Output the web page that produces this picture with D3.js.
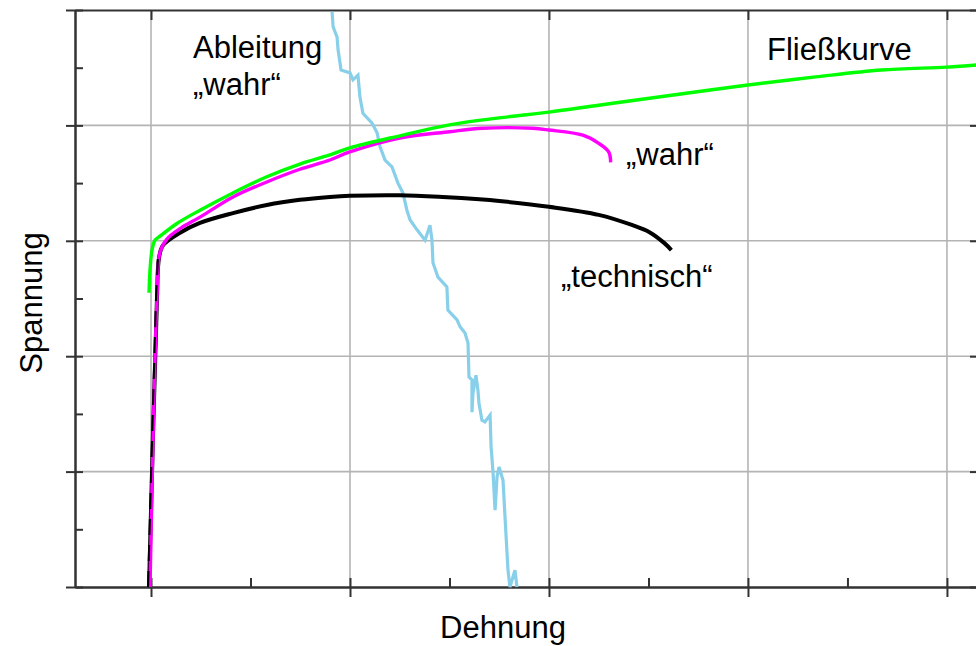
<!DOCTYPE html>
<html>
<head>
<meta charset="utf-8">
<script src="https://cdn.jsdelivr.net/npm/d3@7"></script>
<style>
  body { margin: 0; background: #fff; }
  svg { display: block; font-family: "Liberation Sans", Arial, sans-serif; }
</style>
</head>
<body>
<div id="chart"></div>
<script>
// Dehnung (x) / Spannung (y) readings
const technischX = [-0.1, 0.3, 0.4, 0.6, 1.46, 2.46, 4.12, 5.82, 7.48, 8.99, 9.99, 12.5, 14.66, 16.5, 17.5, 20, 22.5, 24.2, 25.05, 25.8, 26.15];
const technischY = [0, 500, 570, 592, 614, 631, 648, 662, 671, 676, 678, 679, 676, 672, 669, 659, 645, 627, 615, 596, 584];

const wahrX = [-0.05, 0.3, 0.45, 0.8, 1.5, 2.46, 4.12, 5.82, 7.48, 8.99, 9.99, 12.5, 15.0, 16.67, 19.18, 20, 21.7, 22.5, 23.0, 23.1];
const wahrY = [0, 500, 580, 603, 622, 641, 676, 702, 724, 740, 754, 778, 789, 795, 795, 792, 783, 769, 754, 736];

const fliessX = [-0.1, -0.05, 0.05, 0.2, 0.45, 1.3, 2.46, 4.12, 5.82, 7.48, 8.99, 9.99, 12.5, 15.0, 17.5, 20, 22.5, 25.05, 30, 33.4, 36.7, 40, 41.6];
const fliessY = [510, 549, 584, 601, 608, 630, 653, 683, 711, 733, 749, 761, 782, 801, 813, 823, 835, 847, 870, 884, 896, 901, 905];

const ableitungX = [9.1, 9.15, 9.35, 9.4, 9.55, 10.0, 10.15, 10.4, 10.5, 10.65, 11.11, 11.36, 11.51, 11.76, 12.11, 12.41, 12.66, 12.86, 13.02, 13.37, 13.77, 14.02, 14.12, 14.17, 14.42, 14.87, 14.92, 15.38, 15.53, 15.78, 15.93, 15.98, 16.13, 16.13, 16.18, 16.33, 16.43, 16.48, 16.63, 16.78, 17.04, 17.09, 17.19, 17.29, 17.39, 17.49, 17.69, 17.79, 17.94, 18.04, 18.29, 18.39];
const ableitungY = [997, 971, 953, 931, 896, 891, 879, 887, 849, 821, 804, 787, 763, 740, 728, 700, 683, 653, 636, 619, 601, 627, 601, 562, 537, 520, 480, 463, 451, 440, 423, 364, 359, 303, 336, 367, 341, 319, 289, 286, 298, 243, 198, 133, 191, 208, 185, 121, 29, 0, 29, 0];

const xMajor = [0, 10, 20, 30, 40];
const xMinor = [0, 5, 10, 15, 20, 25, 30, 35, 40];
const yMajor = [0, 200, 400, 600, 800, 1000];
const yMinor = [0, 100, 200, 300, 400, 500, 600, 700, 800, 900, 1000];

const width = 976, height = 646;
const plotLeft = 75, plotRight = 978, plotTop = 10, plotBottom = 587;

const svg = d3.select("#chart").append("svg")
    .attr("width", width)
    .attr("height", height);

const x = d3.scaleLinear().domain([-3.82, 41.56]).range([plotLeft, plotRight]);
const y = d3.scaleLinear().domain([0, 1000]).range([plotBottom, plotTop]);

// grid
svg.append("g")
    .selectAll("line")
    .data(xMajor)
    .join("line")
    .attr("x1", d => x(d)).attr("x2", d => x(d))
    .attr("y1", plotTop).attr("y2", plotBottom)
    .attr("stroke", "#b4b4b4")
    .attr("stroke-width", 1.6);

svg.append("g")
    .selectAll("line")
    .data(yMajor.filter(d => d > 0 && d < 1000))
    .join("line")
    .attr("x1", plotLeft).attr("x2", plotRight)
    .attr("y1", d => y(d)).attr("y2", d => y(d))
    .attr("stroke", "#b4b4b4")
    .attr("stroke-width", 1.6);

// axes: ticks inside and outside
function styleAxis(g) {
    g.selectAll("path").attr("stroke", "#333").attr("stroke-width", 2);
    g.selectAll("line").attr("stroke", "#333").attr("stroke-width", 2);
}

svg.append("g").attr("transform", `translate(${plotLeft},0)`)
    .call(d3.axisRight(y).tickValues(yMinor).tickSize(8).tickSizeOuter(0).tickFormat(""))
    .call(styleAxis);
svg.append("g").attr("transform", `translate(${plotLeft},0)`)
    .call(d3.axisLeft(y).tickValues(yMajor).tickSize(9).tickSizeOuter(0).tickFormat(""))
    .call(styleAxis);
svg.append("g").attr("transform", `translate(${plotRight},0)`)
    .call(d3.axisLeft(y).tickValues(yMajor).tickSize(8).tickSizeOuter(0).tickFormat(""))
    .call(styleAxis);

svg.append("g").attr("transform", `translate(0,${plotBottom})`)
    .call(d3.axisTop(x).tickValues(xMinor).tickSize(9).tickSizeOuter(0).tickFormat(""))
    .call(styleAxis);
svg.append("g").attr("transform", `translate(0,${plotBottom})`)
    .call(d3.axisBottom(x).tickValues(xMajor).tickSize(10).tickSizeOuter(0).tickFormat(""))
    .call(styleAxis);
svg.append("g").attr("transform", `translate(0,${plotTop})`)
    .call(d3.axisBottom(x).tickValues(xMajor).tickSize(10).tickSizeOuter(0).tickFormat(""))
    .call(styleAxis);

// curves
const line = d3.line().x(d => x(d[0])).y(d => y(d[1]));
const smooth = d3.line().x(d => x(d[0])).y(d => y(d[1])).curve(d3.curveCatmullRom.alpha(0.5));
const plot = svg.append("g");

plot.append("path")
    .datum(d3.zip(ableitungX, ableitungY))
    .attr("d", line)
    .attr("fill", "none")
    .attr("stroke", "#88cfea")
    .attr("stroke-width", 3.2);

const technisch = d3.zip(technischX, technischY);
plot.append("path")
    .datum(technisch)
    .attr("d", smooth)
    .attr("fill", "none")
    .attr("stroke", "#000")
    .attr("stroke-width", 4);

plot.append("path")
    .datum(d3.zip(wahrX, wahrY))
    .attr("d", smooth)
    .attr("fill", "none")
    .attr("stroke", "#ff00ff")
    .attr("stroke-width", 3.4);

// black dashes show through on the elastic part
plot.append("path")
    .datum(technisch.slice(0, 3))
    .attr("d", line)
    .attr("fill", "none")
    .attr("stroke", "#000")
    .attr("stroke-width", 2)
    .attr("stroke-dasharray", "16,10")
    .attr("transform", "translate(-1,0)");

plot.append("path")
    .datum(d3.zip(fliessX, fliessY))
    .attr("d", smooth)
    .attr("fill", "none")
    .attr("stroke", "#00ff00")
    .attr("stroke-width", 3.4);

// labels
const labels = svg.append("g")
    .style("font-size", "31px")
    .attr("fill", "#000");

labels.append("text").attr("x", 193).attr("y", 58).text("Ableitung");
labels.append("text").attr("x", 193).attr("y", 95).text("\u201Ewahr\u201C");
labels.append("text").attr("x", 767).attr("y", 60).text("Fließkurve");
labels.append("text").attr("x", 626).attr("y", 165).text("\u201Ewahr\u201C");
labels.append("text").attr("x", 561).attr("y", 287).text("\u201Etechnisch\u201C");

labels.append("text")
    .attr("x", 503).attr("y", 638)
    .attr("text-anchor", "middle")
    .text("Dehnung");

labels.append("text")
    .attr("transform", "translate(42,303) rotate(-90)")
    .attr("text-anchor", "middle")
    .text("Spannung");
</script>
</body>
</html>
